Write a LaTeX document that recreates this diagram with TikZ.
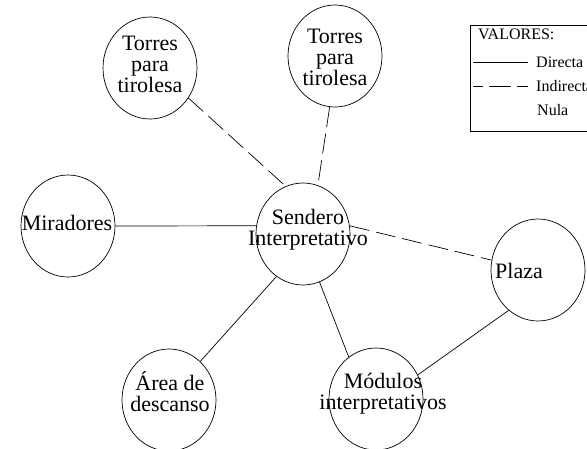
\documentclass[tikz,border=0pt]{standalone}
\usepackage{fontspec}
\setmainfont{Liberation Serif}
\usetikzlibrary{shapes.geometric}
\tikzset{
  bubble/.style={ellipse, draw, line width=0.7pt, minimum width=94pt, minimum height=102pt, inner sep=0pt},
  bubbletext/.style={align=center, inner sep=0pt, font=\fontsize{22}{21}\selectfont},
  legendtext/.style={anchor=west, inner sep=0pt, font=\fontsize{16}{16}\selectfont},
  direct/.style={line width=0.7pt},
  indirect/.style={line width=0.7pt, dash pattern=on 20pt off 7pt},
}
\begin{document}
\begin{tikzpicture}[
    x=1pt,
    y=-1pt
]
\useasboundingbox (0,0) rectangle (587,448);
\begin{scope}
  % circles
  \foreach \nm/\px/\py in {
    torresA/150/68,
    torresB/335/56,
    miradores/68/226,
    sendero/303/234,
    plaza/538/270,
    area/169/400,
    modulos/376/399
  }{
    \node[bubble] (\nm) at (\px,\py) {};
  }

  % texts
  \node[bubbletext] (torresAtxt) at (150,64) {Torres\\para\\tirolesa};
  \node[bubbletext] (torresBtxt) at (335,57) {Torres\\para\\tirolesa};
  \node[bubbletext] (miradorestxt) at (67,223) {Miradores};
  \node[bubbletext] (senderotxt) at (308,230) {Sendero\\Interpretativo};
  \node[bubbletext] (plazatxt) at (519,271) {Plaza};
  \node[bubbletext] (areatxt) at (170,392) {Área de\\descanso};
  \node[bubbletext] (modulostxt) at (383,394) {Módulos\\interpretativos};

  % connectors
  \draw[indirect] (torresA.-38) -- (sendero.110);
  \draw[indirect] (torresB.-96) -- (sendero.73);
  \draw[direct] (miradores.0) -- (sendero.170);
  \draw[indirect] (sendero.10) -- (plaza.168);
  \draw[direct] (sendero.-122) -- (area.51);
  \draw[direct] (sendero.-71) -- (modulos.123);
  \draw[direct] (plaza.234) -- (modulos.30);

  % legend
  \draw[line width=0.7pt] (470,25) rectangle (600,131);
  \node[legendtext] (valores) at (478,34) {VALORES:};
  \coordinate (dirA) at (473,62);
  \coordinate (dirB) at (528,62);
  \coordinate (indA) at (473,86);
  \coordinate (indB) at (528,86);
  \draw[direct] (dirA) -- (dirB);
  \draw[line width=0.7pt, dash pattern=on 22pt off 6pt, dash phase=12pt] (indA) -- (indB);
  \node[legendtext] (directa) at (536,62) {Directa};
  \node[legendtext] (indirecta) at (536,86) {Indirecta};
  \node[legendtext] (nula) at (537,110) {Nula};
\end{scope}
\end{tikzpicture}
\end{document}
